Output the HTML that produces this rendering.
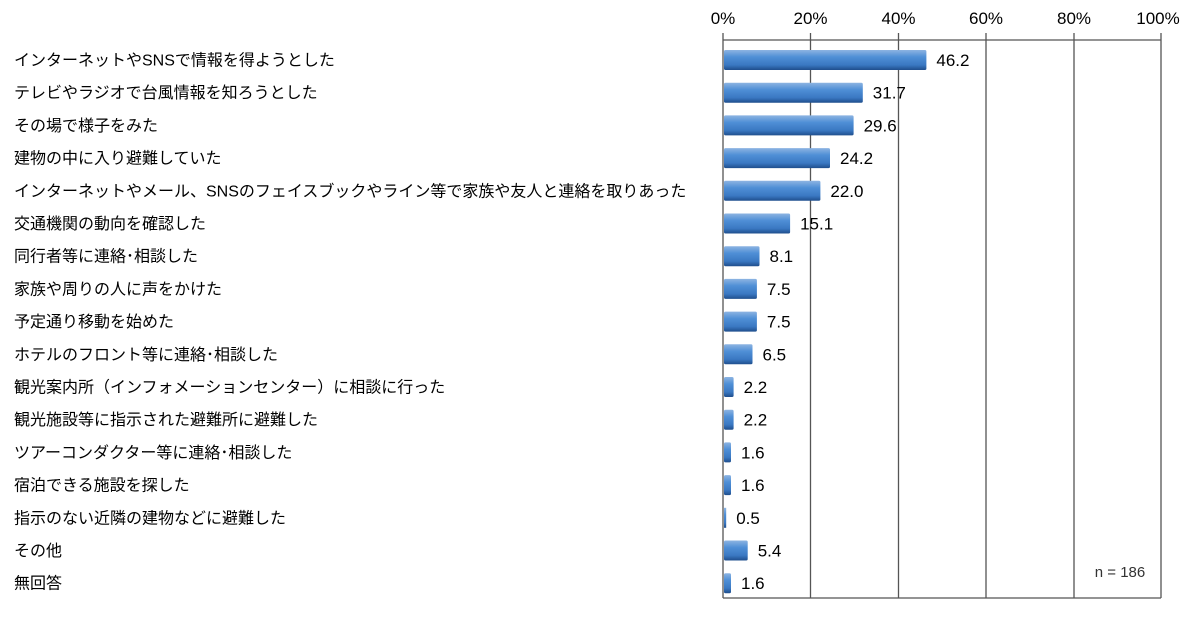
<!DOCTYPE html>
<html><head><meta charset="utf-8"><style>
body{margin:0;background:#fff;}
text{font-family:"Liberation Sans","Noto Sans CJK JP",sans-serif;}
</style></head><body>
<svg width="1200" height="614" xmlns="http://www.w3.org/2000/svg">
<defs>
<linearGradient id="g" x1="0" y1="0" x2="0" y2="1">
<stop offset="0" stop-color="#8db4e2"/><stop offset="0.35" stop-color="#4f8fd6"/><stop offset="0.75" stop-color="#3a78c2"/><stop offset="1" stop-color="#1f4e8c"/>
</linearGradient>
</defs>
<g stroke="#555" stroke-width="1.3" fill="none">
<line x1="810.5" y1="33" x2="810.5" y2="598"/>
<line x1="898.5" y1="33" x2="898.5" y2="598"/>
<line x1="986" y1="33" x2="986" y2="598"/>
<line x1="1074" y1="33" x2="1074" y2="598"/>
<line x1="723" y1="33" x2="723" y2="598"/>
<line x1="1161" y1="33" x2="1161" y2="598"/>
<line x1="723" y1="40" x2="1161" y2="40"/>
<line x1="723" y1="598" x2="1161" y2="598"/>
</g>
<g font-size="17" text-anchor="middle" fill="#000">
<text x="723" y="24">0%</text><text x="810.5" y="24">20%</text><text x="898.5" y="24">40%</text><text x="986" y="24">60%</text><text x="1074" y="24">80%</text><text x="1158" y="24">100%</text>
</g>
<g font-size="16" fill="#000">
<text x="14" y="65.5">インターネットやSNSで情報を得ようとした</text>
<text x="14" y="98.2">テレビやラジオで台風情報を知ろうとした</text>
<text x="14" y="130.9">その場で様子をみた</text>
<text x="14" y="163.6">建物の中に入り避難していた</text>
<text x="14" y="196.3">インターネットやメール、SNSのフェイスブックやライン等で家族や友人と連絡を取りあった</text>
<text x="14" y="229">交通機関の動向を確認した</text>
<text x="14" y="261.7">同行者等に連絡･相談した</text>
<text x="14" y="294.4">家族や周りの人に声をかけた</text>
<text x="14" y="327.1">予定通り移動を始めた</text>
<text x="14" y="359.8">ホテルのフロント等に連絡･相談した</text>
<text x="14" y="392.5">観光案内所（インフォメーションセンター）に相談に行った</text>
<text x="14" y="425.2">観光施設等に指示された避難所に避難した</text>
<text x="14" y="457.9">ツアーコンダクター等に連絡･相談した</text>
<text x="14" y="490.6">宿泊できる施設を探した</text>
<text x="14" y="523.3">指示のない近隣の建物などに避難した</text>
<text x="14" y="556">その他</text>
<text x="14" y="588.7">無回答</text>
</g>
<g fill="url(#g)">
<rect x="724" y="50" width="202.4" height="20" rx="1.5"/>
<rect x="724" y="82.7" width="138.8" height="20" rx="1.5"/>
<rect x="724" y="115.4" width="129.6" height="20" rx="1.5"/>
<rect x="724" y="148.1" width="106" height="20" rx="1.5"/>
<rect x="724" y="180.8" width="96.4" height="20" rx="1.5"/>
<rect x="724" y="213.5" width="66.1" height="20" rx="1.5"/>
<rect x="724" y="246.2" width="35.5" height="20" rx="1.5"/>
<rect x="724" y="278.9" width="32.9" height="20" rx="1.5"/>
<rect x="724" y="311.6" width="32.9" height="20" rx="1.5"/>
<rect x="724" y="344.3" width="28.5" height="20" rx="1.5"/>
<rect x="724" y="377" width="9.6" height="20" rx="1.5"/>
<rect x="724" y="409.7" width="9.6" height="20" rx="1.5"/>
<rect x="724" y="442.4" width="7" height="20" rx="1.5"/>
<rect x="724" y="475.1" width="7" height="20" rx="1.5"/>
<rect x="724" y="507.8" width="2.2" height="20"/>
<rect x="724" y="540.5" width="23.7" height="20" rx="1.5"/>
<rect x="724" y="573.2" width="7" height="20" rx="1.5"/>
</g>
<g font-size="17" fill="#000">
<text x="936.4" y="66">46.2</text>
<text x="872.8" y="98.7">31.7</text>
<text x="863.6" y="131.4">29.6</text>
<text x="840" y="164.1">24.2</text>
<text x="830.4" y="196.8">22.0</text>
<text x="800.1" y="229.5">15.1</text>
<text x="769.5" y="262.2">8.1</text>
<text x="766.9" y="294.9">7.5</text>
<text x="766.9" y="327.6">7.5</text>
<text x="762.5" y="360.3">6.5</text>
<text x="743.6" y="393">2.2</text>
<text x="743.6" y="425.7">2.2</text>
<text x="741" y="458.4">1.6</text>
<text x="741" y="491.1">1.6</text>
<text x="736.2" y="523.8">0.5</text>
<text x="757.7" y="556.5">5.4</text>
<text x="741" y="589.2">1.6</text>
</g>
<text x="1120" y="577" font-size="15" text-anchor="middle" fill="#333">n = 186</text>
</svg>
</body></html>
